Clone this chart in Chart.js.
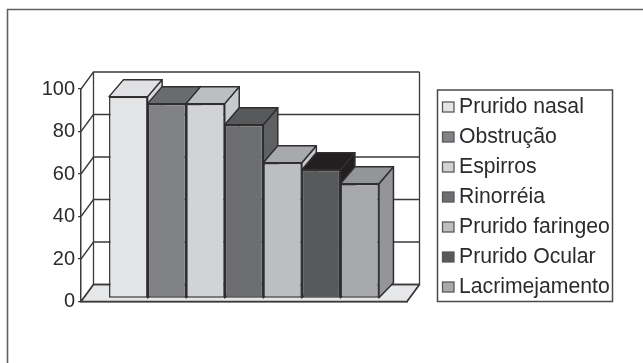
<!DOCTYPE html>
<html>
<head>
<meta charset="utf-8">
<style>html,body{margin:0;padding:0;background:#fff}canvas{display:block}</style>
<script src="https://cdn.jsdelivr.net/npm/chart.js@4/dist/chart.umd.js"></script>
</head>
<body>
<canvas id="c" width="643" height="363"></canvas>
<script>
const seriesNames = ['Prurido nasal','Obstrução','Espirros','Rinorréia','Prurido faringeo','Prurido Ocular','Lacrimejamento'];
const seriesValues = [95, 91.7, 91.7, 81.8, 63.9, 60.6, 54];
const frontColors = ['#e4e5e7','#818285','#d1d3d4','#6d6e71','#bcbec0','#58595b','#a7a9ac'];
const topColors   = ['#e0e1e3','#6a6b6e','#bcbec0','#58595b','#a7a9ac','#231f20','#939598'];
const sideColors  = ['#d8d9db','#6a6b6e','#c8c9cb','#5f6062','#c8c9cb','#231f20','#939598'];
const yTicks = [0,20,40,60,80,100];
const ink = '#3a3a3c';
const FONT = '"Liberation Sans", Arial, sans-serif';
const wallDX = 12.5, wallDY = -17;
const barDX = 14.5, barDY = -17, barBaseDY = -15, barLift = -3;

function poly(ctx, pts, fill, stroke, lw){
  ctx.beginPath();
  pts.forEach((p,i)=> i ? ctx.lineTo(p[0],p[1]) : ctx.moveTo(p[0],p[1]));
  ctx.closePath();
  if(fill){ctx.fillStyle=fill;ctx.fill();}
  if(stroke){ctx.strokeStyle=stroke;ctx.lineWidth=lw||1.5;ctx.lineJoin='round';ctx.stroke();}
}
const scene = {
  id:'scene',
  beforeDraw(chart){
    const ctx=chart.ctx;
    ctx.save();
    ctx.fillStyle='#fff';ctx.fillRect(0,0,643,363);
    ctx.strokeStyle='#5f6062';ctx.lineWidth=1.6;
    ctx.beginPath();ctx.moveTo(7.5,363);ctx.lineTo(7.5,9.5);ctx.lineTo(643,9.5);ctx.stroke();
    ctx.restore();
  },
  beforeDatasetsDraw(chart){
    const ctx=chart.ctx,a=chart.chartArea,y=chart.scales.y;
    const L=a.left,R=a.right,B=y.getPixelForValue(0),T=y.getPixelForValue(100);
    ctx.save();
    poly(ctx,[[L,B],[R,B],[R+wallDX,B+wallDY],[L+wallDX,B+wallDY]],'#e6e7e8',ink,1.3);
    ctx.strokeStyle=ink;ctx.lineWidth=1.3;
    yTicks.forEach(v=>{
      const p=y.getPixelForValue(v);
      ctx.beginPath();ctx.moveTo(L,p);ctx.lineTo(L+wallDX,p+wallDY);ctx.lineTo(R+wallDX,p+wallDY);ctx.stroke();
    });
    ctx.beginPath();
    ctx.moveTo(L+wallDX,T+wallDY);ctx.lineTo(L+wallDX,B+wallDY);
    ctx.moveTo(R+wallDX,T+wallDY);ctx.lineTo(R+wallDX,B+wallDY);
    ctx.lineTo(R,B);
    ctx.stroke();
    ctx.restore();
  },
  // Bars are painted left to right in afterDatasetsDraw, so each bar covers its neighbour's side face.
  beforeDatasetDraw(){ return false; },
  afterDatasetsDraw(chart){
    const ctx=chart.ctx;
    ctx.save();
    ctx.translate(0,barLift);
    seriesNames.forEach((n,i)=>{
      const bar=chart.getDatasetMeta(i).data[0];
      const l=bar.x-bar.width/2,r=bar.x+bar.width/2,t=bar.y,b=bar.base;
      poly(ctx,[[r,t],[r+barDX,t+barDY],[r+barDX,b+barBaseDY],[r,b]],sideColors[i],'#2f2f31',1.5);
      poly(ctx,[[l,t],[l+barDX,t+barDY],[r+barDX,t+barDY],[r,t]],topColors[i],'#2f2f31',1.5);
      bar.draw(ctx);
    });
    ctx.restore();
  },
  afterDraw(chart){
    const ctx=chart.ctx;
    ctx.save();
    ctx.strokeStyle='#4a4a4c';ctx.lineWidth=1.5;
    ctx.strokeRect(437.5,90,175,211.5);
    ctx.font='21.2px '+FONT;ctx.textBaseline='middle';ctx.textAlign='left';
    seriesNames.forEach((n,i)=>{
      const cy=106.5+30*i;
      ctx.fillStyle=frontColors[i];ctx.strokeStyle='#58595b';ctx.lineWidth=1.3;
      ctx.fillRect(442.5,cy-4.5,11.5,10);ctx.strokeRect(442.5,cy-4.5,11.5,10);
      ctx.fillStyle='#2b2b2d';
      ctx.fillText(n,459,cy+1);
    });
    ctx.restore();
  }
};
new Chart(document.getElementById('c'),{
  type:'bar',
  data:{
    labels:[''],
    datasets:seriesNames.map((n,i)=>({
      label:n,data:[seriesValues[i]],backgroundColor:frontColors[i],
      borderColor:'#2f2f31',borderWidth:1.5,borderSkipped:false,clip:false,
      barPercentage:1,categoryPercentage:0.828
    }))
  },
  options:{
    responsive:false,animation:false,
    layout:{padding:{left:0,top:89,right:236,bottom:61.5}},
    plugins:{legend:{display:false},tooltip:{enabled:false}},
    scales:{
      x:{grid:{display:false},ticks:{display:false},border:{display:true,color:ink,width:1.5},afterFit(s){s.height=0;}},
      y:{min:0,max:100,afterFit(s){s.width=81;},
        afterBuildTicks(s){s.ticks=yTicks.map(v=>({value:v}));},
        grid:{drawOnChartArea:false,drawTicks:true,tickLength:3,color:ink,lineWidth:1.3},
        border:{display:true,color:ink,width:1.5},
        ticks:{padding:3,color:'#2b2b2d',font:{family:FONT,size:20}}
      }
    }
  },
  plugins:[scene]
});
</script>
</body>
</html>
